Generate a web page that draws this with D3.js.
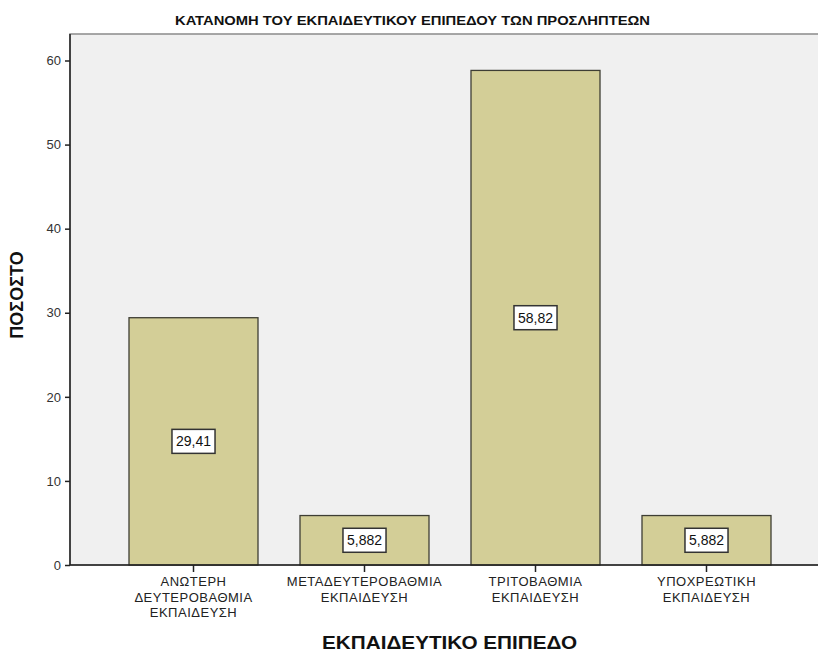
<!DOCTYPE html>
<html><head><meta charset="utf-8">
<script src="https://cdn.jsdelivr.net/npm/d3@7"></script>
<style>body{margin:0;background:#fff}svg{display:block}</style>
</head><body>
<svg id="c" width="818" height="653"></svg>
<script>
const categories = [
  ["ΑΝΩΤΕΡΗ","ΔΕΥΤΕΡΟΒΑΘΜΙΑ","ΕΚΠΑΙΔΕΥΣΗ"],
  ["ΜΕΤΑΔΕΥΤΕΡΟΒΑΘΜΙΑ","ΕΚΠΑΙΔΕΥΣΗ"],
  ["ΤΡΙΤΟΒΑΘΜΙΑ","ΕΚΠΑΙΔΕΥΣΗ"],
  ["ΥΠΟΧΡΕΩΤΙΚΗ","ΕΚΠΑΙΔΕΥΣΗ"]
];
const values = [29.41, 5.882, 58.82, 5.882];
const valueLabels = ["29,41", "5,882", "58,82", "5,882"];
const yTicks = [0, 10, 20, 30, 40, 50, 60];
const title = "ΚΑΤΑΝΟΜΗ ΤΟΥ ΕΚΠΑΙΔΕΥΤΙΚΟΥ ΕΠΙΠΕΔΟΥ ΤΩΝ ΠΡΟΣΛΗΠΤΕΩΝ";
const xTitle = "ΕΚΠΑΙΔΕΥΤΙΚΟ ΕΠΙΠΕΔΟ";
const yTitle = "ΠΟΣΟΣΤΟ";

(function(){
const svg = d3.select("#c");
const pL = 70, pR = 818, pT = 34, pB = 565;
const y = d3.scaleLinear().domain([0, 60]).range([pB, 60.5]);
const idx = d3.range(values.length);
const x = d3.scaleBand().domain(idx).range([108, 792]).paddingInner(42/171).paddingOuter(21/171);
const F = "Liberation Sans, Arial, sans-serif";

svg.append("rect").attr("x", pL).attr("y", pT).attr("width", pR - pL + 2).attr("height", pB - pT)
  .attr("fill", "#f0f0f0").attr("stroke", "#8a8a8a").attr("stroke-width", 1.5);

svg.selectAll("rect.bar").data(values).join("rect").attr("class", "bar")
  .attr("x", (d, i) => x(i)).attr("width", x.bandwidth())
  .attr("y", d => y(d)).attr("height", d => y(0) - y(d))
  .attr("fill", "#d3ce97").attr("stroke", "#3e3e34").attr("stroke-width", 1.3);

const lab = svg.selectAll("g.vl").data(values).join("g").attr("class", "vl")
  .attr("transform", (d, i) => `translate(${x(i) + x.bandwidth() / 2},${(y(d) + y(0)) / 2})`);
lab.each(function(d, i) {
  const g = d3.select(this);
  const t = g.append("text").text(valueLabels[i]).attr("text-anchor", "middle").attr("dy", "0.36em")
    .attr("font-family", F).attr("font-size", 14).attr("fill", "#111");
  const w = t.node().getComputedTextLength();
  g.insert("rect", "text").attr("x", -w / 2 - 4).attr("y", -12).attr("width", w + 8).attr("height", 24)
    .attr("fill", "#fff").attr("stroke", "#333").attr("stroke-width", 1.5);
});

const yAxis = svg.append("g").attr("transform", `translate(${pL},0)`)
  .call(d3.axisLeft(y).tickValues(yTicks).tickSize(5).tickPadding(4).tickFormat(d3.format("d")));
yAxis.select(".domain").attr("stroke", "#222").attr("stroke-width", 1.5).attr("d", `M0,${pT}V${pB}`);
yAxis.selectAll(".tick line").attr("stroke", "#222").attr("stroke-width", 1.5);
yAxis.selectAll(".tick text").attr("font-family", F).attr("font-size", 13).attr("fill", "#333");

const xAxis = svg.append("g").attr("transform", `translate(0,${pB})`)
  .call(d3.axisBottom(x).tickSize(7).tickFormat(""));
xAxis.select(".domain").attr("stroke", "#222").attr("stroke-width", 1.5).attr("d", `M${pL},0H${pR}`);
xAxis.selectAll(".tick line").attr("stroke", "#222").attr("stroke-width", 1.5);
xAxis.selectAll(".tick").each(function(d) {
  const t = d3.select(this).append("text").attr("text-anchor", "middle")
    .attr("font-family", F).attr("font-size", 13).attr("letter-spacing", 0.5).attr("fill", "#222");
  categories[d].forEach((line, k) => t.append("tspan").attr("x", 0).attr("y", 21 + k * 15.5).text(line));
});

svg.append("text").attr("x", 412.5).attr("y", 25).attr("text-anchor", "middle")
  .attr("font-family", "Liberation Sans Narrow, Arial Narrow, Liberation Sans, sans-serif")
  .attr("font-weight", "bold").attr("font-size", 12).attr("fill", "#111")
  .attr("textLength", 475).attr("lengthAdjust", "spacingAndGlyphs").text(title);
svg.append("text").attr("x", 449.5).attr("y", 649).attr("text-anchor", "middle")
  .attr("font-family", F).attr("font-weight", "bold")
  .attr("font-size", 18).attr("fill", "#111")
  .attr("textLength", 255).attr("lengthAdjust", "spacingAndGlyphs").text(xTitle);
svg.append("text").attr("transform", "translate(23,295) rotate(-90)").attr("text-anchor", "middle")
  .attr("font-family", F).attr("font-weight", "bold")
  .attr("font-size", 18).attr("fill", "#111").text(yTitle);
})();
</script>
</body></html>
